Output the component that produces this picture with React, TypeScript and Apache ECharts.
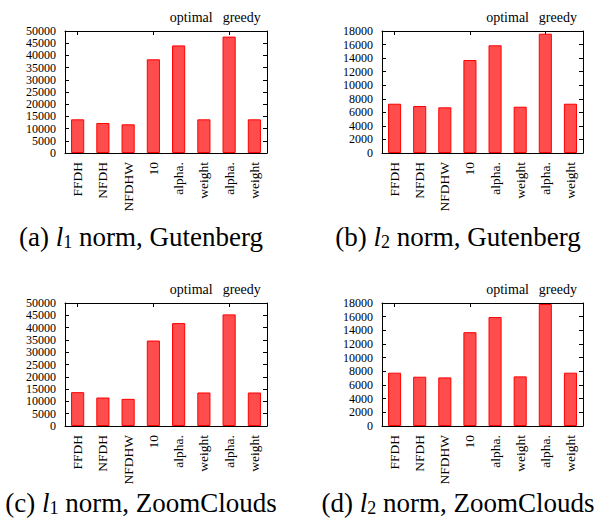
import React, { useEffect, useRef } from "react";
import * as echarts from "echarts";

const categories = ["FFDH", "NFDH", "NFDHW", "10", "alpha.", "weight", "alpha.", "weight"];
const l1Gutenberg = [13800, 12300, 11750, 38400, 44100, 13800, 47700, 13800];
const l2Gutenberg = [7270, 6930, 6740, 13720, 15890, 6830, 17600, 7270];
const l1ZoomClouds = [13760, 11580, 11040, 34740, 41830, 13620, 45370, 13620];
const l2ZoomClouds = [7800, 7210, 7110, 13730, 15940, 7260, 17850, 7800];
const groupLabels = ["optimal", "greedy"];
const captionLetters = ["(a)", "(b)", "(c)", "(d)"];
const captionNorms = ["1", "2", "1", "2"];
const captionNames = ["Gutenberg", "Gutenberg", "ZoomClouds", "ZoomClouds"];
const yMax = [50000, 18000, 50000, 18000];
const yStep = [5000, 2000, 5000, 2000];

const SERIF = "Liberation Serif, Times New Roman, serif";

const panels = [
  { left: 65, top: 31, width: 202, height: 122, data: l1Gutenberg, capX: 141, capY: 237 },
  { left: 382, top: 31, width: 201, height: 122, data: l2Gutenberg, capX: 458, capY: 237 },
  { left: 65, top: 303, width: 202, height: 123, data: l1ZoomClouds, capX: 141, capY: 503 },
  { left: 382, top: 303, width: 201, height: 123, data: l2ZoomClouds, capX: 458, capY: 503 },
];

export default function App() {
  const ref = useRef<HTMLDivElement>(null);
  useEffect(() => {
    if (!ref.current) return;
    const chart = echarts.init(ref.current, undefined, { renderer: "svg" });
    const grid: any[] = [];
    const xAxis: any[] = [];
    const yAxis: any[] = [];
    const series: any[] = [];
    const graphic: any[] = [];
    panels.forEach((p, i) => {
      grid.push({ left: p.left, top: p.top, width: p.width, height: p.height, containLabel: false });
      const lineStyle = { color: "#000", width: 1 };
      xAxis.push({
        type: "category",
        gridIndex: i,
        data: categories,
        position: "bottom",
        axisLine: { show: true, onZero: false, lineStyle },
        axisTick: { show: true, inside: true, alignWithLabel: true, length: 4, lineStyle },
        axisLabel: { rotate: 90, fontFamily: SERIF, fontSize: 13.5, color: "#000", margin: 9, interval: 0 },
        splitLine: { show: false },
      });
      xAxis.push({
        type: "category",
        gridIndex: i,
        data: categories,
        position: "top",
        axisLine: { show: true, onZero: false, lineStyle },
        axisTick: { show: true, inside: true, alignWithLabel: true, length: 4, lineStyle },
        axisLabel: { show: false },
        splitLine: { show: false },
      });
      yAxis.push({
        type: "value",
        gridIndex: i,
        min: 0,
        max: yMax[i],
        interval: yStep[i],
        position: "left",
        axisLine: { show: true, lineStyle },
        axisTick: { show: true, inside: true, length: 4, lineStyle },
        axisLabel: {
          fontFamily: SERIF,
          fontSize: 12,
          lineHeight: 12,
          color: "#000",
          margin: 9,
          showMinLabel: true,
          showMaxLabel: true,
          hideOverlap: false,
          formatter: (v: number) => String(v),
        },
        splitLine: { show: false },
      });
      yAxis.push({
        type: "value",
        gridIndex: i,
        min: 0,
        max: yMax[i],
        interval: yStep[i],
        position: "right",
        axisLine: { show: true, lineStyle },
        axisTick: { show: true, inside: true, length: 4, lineStyle },
        axisLabel: { show: false },
        splitLine: { show: false },
      });
      series.push({
        type: "bar",
        xAxisIndex: 2 * i,
        yAxisIndex: 2 * i,
        data: p.data,
        barWidth: "52%",
        itemStyle: { color: "#ff4d4d", borderColor: "#ff0000", borderWidth: 1 },
      });
      const n = categories.length;
      groupLabels.forEach((g, k) => {
        graphic.push({
          type: "text",
          x: p.left + (p.width * (5 + 2 * k)) / n,
          y: p.top - 14,
          style: {
            text: g,
            fontFamily: SERIF,
            fontSize: 14,
            fill: "#000",
            textAlign: "center",
            textVerticalAlign: "middle",
          },
        });
      });
      graphic.push({
        type: "text",
        x: p.capX,
        y: p.capY,
        style: {
          text: `${captionLetters[i]} {i|l}{s|${captionNorms[i]}} norm, ${captionNames[i]}`,
          fontFamily: SERIF,
          fontSize: 27,
          fill: "#000",
          textAlign: "center",
          textVerticalAlign: "middle",
          rich: {
            i: { fontFamily: SERIF, fontStyle: "italic", fontSize: 27, fill: "#000" },
            s: { fontFamily: SERIF, fontSize: 18, fill: "#000", verticalAlign: "bottom", padding: [9, 0, 0, 0] },
          },
        },
      });
    });
    chart.setOption({
      animation: false,
      backgroundColor: "#fff",
      grid,
      xAxis,
      yAxis,
      series,
      graphic,
    });
    return () => chart.dispose();
  }, []);
  return (
    <div
      ref={ref}
      style={{ position: "fixed", left: 0, top: 0, width: 595, height: 520 }}
    />
  );
}
